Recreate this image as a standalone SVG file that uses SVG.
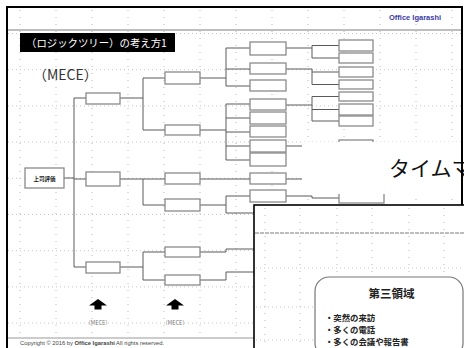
<svg xmlns="http://www.w3.org/2000/svg" width="464" height="348" viewBox="0 0 464 348">
<defs>
<style>
.bg{fill:#fff}
.gv{stroke:#b8b8b8;stroke-width:1;stroke-dasharray:1 6;fill:none}
.gh{stroke:#c4c4c4;stroke-width:1;stroke-dasharray:1 3;fill:none}
.box{fill:#fff;stroke:#8a8a8a;stroke-width:1.3}
.ln{fill:none;stroke:#5a5a5a;stroke-width:1}
.frame{fill:none;stroke:#000;stroke-width:2}
.sep{stroke:#a8a8a8;stroke-width:1.5}
.jp{font-family:"Noto Sans CJK JP","Noto Sans",sans-serif}
.lat{font-family:"Liberation Sans",Arial,sans-serif}
</style>
</defs>
<rect class="bg" x="0" y="0" width="464" height="348"/>

<!-- back slide -->
<g id="back-slide">
  <g id="grid">
    <path class="gv" d="M20,10V336M56,10V336M92,10V336M128,10V336M164,10V336M200,10V336M236,10V336M272,10V336M308,10V336M344,10V336M380,10V336M416,10V336M452,10V336"/>
    <path class="gh" d="M8,33.5H461M8,69.7H461M8,105.9H461M8,142.1H461M8,178.3H461M8,214.5H461M8,250.7H461M8,286.9H461M8,323.1H461"/>
  </g>
  <line class="sep" x1="7" y1="30" x2="462" y2="30"/>
  <text class="lat" x="389" y="20" font-size="7.5" font-weight="bold" fill="#3a3aa6">Office Igarashi</text>
  <g id="title">
    <rect x="20" y="33" width="155" height="19" fill="#000"/>
    <text class="jp" x="26" y="46.5" font-size="10.4" fill="#fff">（ロジックツリー）の考え方1</text>
  </g>
  <text class="jp" x="33" y="80" font-size="14" fill="#333">（MECE）</text>

  <g id="connectors">
    <path class="ln" d="M64,178H74M86,98H74V267H86M74,179H86"/>
    <path class="ln" d="M120,98H143M165,78H143V130H165"/>
    <path class="ln" d="M120,179H165M143,179V205H165"/>
    <path class="ln" d="M120,267H143M165,252H143V280H165"/>
    <path class="ln" d="M200,78H226M250,48H226V86H250M226,69H250"/>
    <path class="ln" d="M200,130H226M250,104H226V160H250M226,118H250M226,132H250M226,146H250"/>
    <path class="ln" d="M200,179H250M286,179H302"/>
    <path class="ln" d="M200,205H226M250,196H226V213H254"/>
    <path class="ln" d="M200,252H226M254,249H226V252"/>
    <path class="ln" d="M200,280H226V272H254"/>
    <path class="ln" d="M286,48H312M339,45.5H312V58H339"/>
    <path class="ln" d="M286,69H312V72M339,72H312V84.5H339"/>
    <path class="ln" d="M286,105H312M339,96.5H312V121H339M312,109.5H339"/>
    <path class="ln" d="M286,146H302"/>
    <path class="ln" d="M286,196H312V198H339"/>
  </g>

  <g id="n-root"><rect class="box" x="25" y="168" width="39" height="20"/>
    <text class="jp" x="44.5" y="180.5" font-size="5.5" font-weight="bold" text-anchor="middle" fill="#222">上司評価</text></g>
  <g id="n-a"><rect class="box" x="86" y="93" width="34" height="11"/></g>
  <g id="n-b"><rect class="box" x="86" y="172" width="34" height="14"/></g>
  <g id="n-c"><rect class="box" x="86" y="262" width="34" height="11"/></g>
  <g id="n-a1"><rect class="box" x="165" y="72" width="35" height="12"/></g>
  <g id="n-a2"><rect class="box" x="165" y="125" width="35" height="10"/></g>
  <g id="n-b1"><rect class="box" x="165" y="173" width="35" height="11"/></g>
  <g id="n-b2"><rect class="box" x="165" y="199" width="35" height="12"/></g>
  <g id="n-c1"><rect class="box" x="165" y="247" width="35" height="10"/></g>
  <g id="n-c2"><rect class="box" x="165" y="275" width="35" height="10"/></g>
  <g id="n-l3">
    <rect class="box" x="250" y="42" width="36" height="13"/>
    <rect class="box" x="250" y="63" width="36" height="11"/>
    <rect class="box" x="250" y="80" width="36" height="11"/>
    <rect class="box" x="250" y="99" width="36" height="11"/>
    <rect class="box" x="250" y="112" width="36" height="12"/>
    <rect class="box" x="250" y="126" width="36" height="11"/>
    <rect class="box" x="250" y="140" width="36" height="12"/>
    <rect class="box" x="250" y="153" width="36" height="13"/>
    <rect class="box" x="250" y="173" width="36" height="11"/>
    <rect class="box" x="250" y="190" width="36" height="12"/>
  </g>
  <g id="n-l4">
    <rect class="box" x="339" y="40" width="34" height="11"/>
    <rect class="box" x="339" y="53" width="34" height="10"/>
    <rect class="box" x="339" y="67" width="34" height="10"/>
    <rect class="box" x="339" y="80" width="34" height="9"/>
    <rect class="box" x="339" y="92" width="34" height="9"/>
    <rect class="box" x="339" y="104" width="34" height="11"/>
    <rect class="box" x="339" y="116" width="34" height="10"/>
    <rect class="box" x="339" y="140" width="34" height="12"/>
    <rect class="box" x="339" y="189" width="45" height="14"/>
  </g>

  <g id="arrows" fill="#000">
    <polygon points="89,305.5 98,299 107,305.5 101.5,305.5 101.5,309.5 94.5,309.5 94.5,305.5"/>
    <polygon points="166,305.5 175,299 184,305.5 178.5,305.5 178.5,309.5 171.5,309.5 171.5,305.5"/>
  </g>
  <text class="jp" x="98" y="325" font-size="5.5" text-anchor="middle" fill="#777">（MECE）</text>
  <text class="jp" x="175" y="325" font-size="5.5" text-anchor="middle" fill="#777">（MECE）</text>
  <line x1="7" y1="338" x2="254" y2="338" stroke="#999" stroke-width="1"/>
  <text class="lat" x="20" y="345" font-size="5.8" fill="#444">Copyright  ©  2016 by <tspan font-weight="bold">Office Igarashi</tspan> All rights reserved.</text>
</g>

<!-- middle slide (caption) -->
<g id="mid-slide">
  <rect x="302" y="142" width="159" height="52" fill="#fff"/>
  <text class="jp" x="389" y="176" font-size="21" fill="#111">タイムマ</text>
</g>

<path class="frame" d="M7,348V7H462V205"/>

<!-- front slide -->
<g id="front-slide">
  <rect x="254" y="205" width="215" height="150" fill="#fff" stroke="#000" stroke-width="1.6"/>
  <path class="gv" d="M265,208V348M300,208V348M337,208V348M372,208V348M409,208V348M444,208V348"/>
  <path class="gh" d="M256,268H464M256,307H464M256,340H464"/>
  <line class="sep" x1="255" y1="233" x2="464" y2="233" stroke-dasharray="4 1"/>
  <g id="n-third">
    <rect x="315" y="277" width="148" height="80" rx="14" fill="#fff" stroke="#777" stroke-width="1.2"/>
    <text class="jp" x="391.5" y="297.5" font-size="11.5" font-weight="bold" text-anchor="middle" fill="#222">第三領域</text>
    <text class="jp" x="325" y="320.5" font-size="8.4" font-weight="bold" fill="#222">・突然の来訪</text>
    <text class="jp" x="325" y="332.8" font-size="8.4" font-weight="bold" fill="#222">・多くの電話</text>
    <text class="jp" x="325" y="345.1" font-size="8.4" font-weight="bold" fill="#222">・多くの会議や報告書</text>
  </g>
</g>
</svg>
